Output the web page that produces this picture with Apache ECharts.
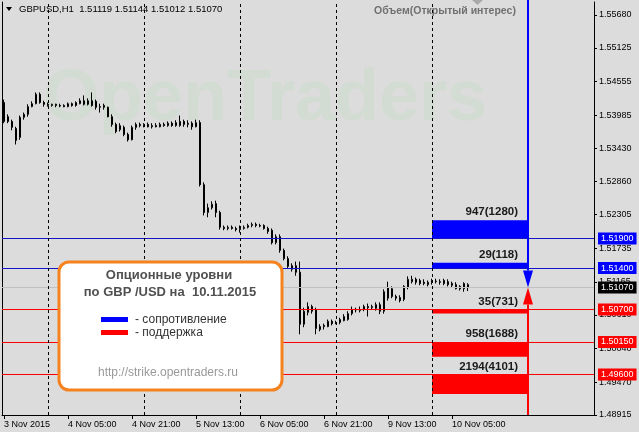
<!DOCTYPE html>
<html><head><meta charset="utf-8">
<script src="https://cdn.jsdelivr.net/npm/echarts@6/dist/echarts.min.js"></script>
<style>html,body{margin:0;padding:0;background:#dcdcdc}#c{width:639px;height:432px}</style>
</head><body><div id="c"></div>
<script>
const symbolName = 'GBPUSD,H1';
const panelTitle = 'Объем(Открытый интерес)';
const sessionDays = ['3 Nov','4 Nov','5 Nov','6 Nov','9 Nov','10 Nov','11 Nov'];
const sessionFirstHour = [13,0,0,0,0,0,0];
const sessionLastHour = [23,23,23,23,23,23,16];
const firstAxisLabel = '3 Nov 2015';
const daySeparators = ['4 Nov 00:00','5 Nov 00:00','6 Nov 00:00','9 Nov 00:00','10 Nov 00:00'];
const yTicks = [1.55680,1.55125,1.54555,1.53985,1.53430,1.52860,1.52305,1.51735,1.51165,1.50610,1.50040,1.49470,1.48915];
const yMin = 1.48915, yMax = 1.55900;
// [open, close, low, high]
const candles = [
[1.5420,1.5388,1.5385,1.5425],[1.5396,1.5388,1.5385,1.5400],[1.5388,1.5378,1.5373,1.5391],[1.5376,1.5356,1.5349,1.5379],
[1.5361,1.5395,1.5357,1.5398],[1.5395,1.5400,1.5391,1.5403],[1.5400,1.5413,1.5396,1.5417],[1.5413,1.5418,1.5412,1.5422],
[1.5418,1.5434,1.5417,1.5437],[1.5434,1.5420,1.5418,1.5437],[1.5420,1.5417,1.5413,1.5423],[1.5417,1.5415,1.5413,1.5420],
[1.5415,1.5417,1.5413,1.5418],[1.5417,1.5415,1.5412,1.5418],[1.5415,1.5414,1.5412,1.5418],[1.5415,1.5413,1.5412,1.5417],
[1.5413,1.5418,1.5412,1.5420],[1.5418,1.5415,1.5413,1.5420],[1.5415,1.5420,1.5413,1.5422],[1.5418,1.5423,1.5417,1.5427],
[1.5423,1.5417,1.5415,1.5432],[1.5417,1.5423,1.5415,1.5427],[1.5423,1.5415,1.5413,1.5437],[1.5422,1.5412,1.5408,1.5425],
[1.5413,1.5412,1.5403,1.5418],[1.5415,1.5412,1.5408,1.5418],[1.5412,1.5396,1.5395,1.5413],[1.5396,1.5383,1.5379,1.5400],
[1.5383,1.5371,1.5368,1.5386],[1.5374,1.5381,1.5371,1.5385],[1.5378,1.5366,1.5363,1.5381],[1.5366,1.5357,1.5354,1.5369],
[1.5357,1.5378,1.5356,1.5381],[1.5378,1.5383,1.5374,1.5386],[1.5383,1.5381,1.5378,1.5386],[1.5381,1.5383,1.5378,1.5385],
[1.5383,1.5379,1.5378,1.5386],[1.5379,1.5381,1.5376,1.5385],[1.5381,1.5379,1.5378,1.5385],[1.5379,1.5383,1.5378,1.5386],
[1.5383,1.5381,1.5379,1.5386],[1.5381,1.5385,1.5379,1.5388],[1.5385,1.5381,1.5379,1.5388],[1.5381,1.5386,1.5379,1.5390],
[1.5381,1.5388,1.5379,1.5398],[1.5388,1.5383,1.5379,1.5391],[1.5383,1.5385,1.5378,1.5390],[1.5385,1.5379,1.5374,1.5388],
[1.5379,1.5386,1.5378,1.5391],[1.5386,1.5281,1.5278,1.5390],[1.5281,1.5234,1.5229,1.5285],[1.5234,1.5242,1.5226,1.5249],
[1.5242,1.5248,1.5239,1.5253],[1.5249,1.5234,1.5226,1.5254],[1.5234,1.5209,1.5205,1.5237],[1.5209,1.5207,1.5204,1.5212],
[1.5207,1.5209,1.5204,1.5212],[1.5209,1.5207,1.5205,1.5212],[1.5207,1.5205,1.5202,1.5210],[1.5205,1.5207,1.5200,1.5212],
[1.5207,1.5209,1.5205,1.5212],[1.5209,1.5212,1.5207,1.5215],[1.5212,1.5214,1.5209,1.5217],[1.5214,1.5212,1.5209,1.5217],
[1.5212,1.5211,1.5209,1.5215],[1.5212,1.5207,1.5205,1.5214],[1.5207,1.5202,1.5198,1.5210],[1.5204,1.5183,1.5180,1.5207],
[1.5183,1.5193,1.5180,1.5197],[1.5193,1.5170,1.5166,1.5197],[1.5170,1.5156,1.5153,1.5173],[1.5156,1.5143,1.5139,1.5160],
[1.5144,1.5138,1.5134,1.5148],[1.5144,1.5133,1.5127,1.5151],[1.5133,1.5045,1.5028,1.5151],[1.5045,1.5067,1.5040,1.5073],
[1.5065,1.5075,1.5060,1.5082],[1.5075,1.5067,1.5063,1.5078],[1.5070,1.5038,1.5028,1.5073],[1.5041,1.5036,1.5033,1.5045],
[1.5043,1.5041,1.5036,1.5046],[1.5041,1.5050,1.5040,1.5053],[1.5050,1.5046,1.5043,1.5053],[1.5048,1.5047,1.5045,1.5051],
[1.5048,1.5053,1.5045,1.5056],[1.5051,1.5058,1.5050,1.5062],[1.5053,1.5063,1.5051,1.5067],[1.5063,1.5070,1.5060,1.5075],
[1.5070,1.5069,1.5065,1.5073],[1.5068,1.5070,1.5065,1.5075],[1.5070,1.5075,1.5067,1.5078],[1.5075,1.5073,1.5058,1.5080],
[1.5073,1.5075,1.5070,1.5078],[1.5078,1.5072,1.5068,1.5082],[1.5078,1.5067,1.5062,1.5082],[1.5067,1.5100,1.5063,1.5104],
[1.5089,1.5107,1.5085,1.5117],[1.5105,1.5092,1.5089,1.5109],[1.5092,1.5089,1.5085,1.5095],[1.5090,1.5085,1.5082,1.5094],
[1.5087,1.5109,1.5084,1.5111],[1.5107,1.5121,1.5104,1.5126],[1.5117,1.5121,1.5114,1.5127],[1.5121,1.5116,1.5112,1.5124],
[1.5119,1.5114,1.5111,1.5122],[1.5116,1.5114,1.5111,1.5121],[1.5112,1.5116,1.5109,1.5119],[1.5116,1.5119,1.5112,1.5122],
[1.5117,1.5118,1.5114,1.5122],[1.5117,1.5116,1.5112,1.5121],[1.5119,1.5114,1.5111,1.5122],[1.5117,1.5112,1.5109,1.5121],
[1.5114,1.5111,1.5107,1.5117],[1.5112,1.5105,1.5104,1.5116],[1.5109,1.5105,1.5102,1.5111],[1.5105,1.5114,1.5100,1.5116],
[1.51119,1.51070,1.51012,1.51144]
];
const currentPrice = 1.51070;
// option levels
const levelPrices = [1.5190, 1.5140, 1.5070, 1.5015, 1.4960];
const levelKinds = ['res','res','sup','sup','sup'];
const levelLabels = ['947(1280)','29(118)','35(731)','958(1688)','2194(4101)'];
const levelBandEdge = [1.5221, 1.5149, 1.5063, 1.4990, 1.4927];
const barStartCat = '10 Nov 00:00';
const arrowCat = '11 Nov 00:00';
const legendTitle1 = 'Опционные уровни';
const legendTitle2 = 'по GBP /USD на  10.11.2015';
const legendRes = '- сопротивление';
const legendSup = '- поддержка';
const legendUrl = 'http://strike.opentraders.ru';
const watermark = 'OpenTraders';

const categories = [];
sessionDays.forEach((d, k) => {
  for (let h = sessionFirstHour[k]; h <= sessionLastHour[k]; h++) {
    categories.push(d + ' ' + (h < 10 ? '0' + h : h) + ':00');
  }
});
const nData = candles.length;
const showTick = (i) => i % 16 === 0 && i < nData;
const FONT = 'Liberation Sans';
const kindColor = { res: '#0000ff', sup: '#ff0000' };
const kindLine = { res: '#1414c8', sup: '#ff0000' };
const last = candles[nData - 1];
const headerText = symbolName + '  ' + [last[0], last[3], last[2], last[1]].map(v => v.toFixed(5)).join(' ');

const startIdx = categories.indexOf(barStartCat);
const arrowIdx = categories.indexOf(arrowCat);
const barData = levelPrices.map((p, i) => [startIdx, arrowIdx, p, levelBandEdge[i]]);
const arrowData = [[arrowIdx, yMax, currentPrice], [arrowIdx, yMin, currentPrice]];
const arrowColors = ['#0000ff', '#ff0000'];

const markData = [];
levelPrices.forEach((p, i) => {
  markData.push({ yAxis: p, lineStyle: { color: kindLine[levelKinds[i]], width: 1, type: 'solid' },
    label: { show: true, backgroundColor: kindColor[levelKinds[i]] } });
});
markData.push({ yAxis: currentPrice, lineStyle: { color: '#c0c0c0', width: 1, type: 'solid' },
  label: { show: true, backgroundColor: '#000000' } });
daySeparators.forEach(c => {
  markData.push({ xAxis: c, lineStyle: { color: '#000', width: 1, type: [3, 3] }, label: { show: false } });
});

const chart = echarts.init(document.getElementById('c'), null, { renderer: 'canvas' });
chart.setOption({
  backgroundColor: '#dcdcdc',
  animation: false,
  grid: { left: 2, right: 45, top: 2, bottom: 17, show: false },
  xAxis: {
    type: 'category', data: categories, boundaryGap: true,
    axisLine: { show: true, lineStyle: { color: '#000', width: 1 } },
    axisTick: { show: true, alignWithLabel: true, interval: (i) => showTick(i), length: 4, lineStyle: { color: '#000' } },
    axisLabel: { interval: (i) => showTick(i), align: 'left', margin: 5, fontFamily: FONT, fontSize: 9, color: '#000',
      formatter: (v, i) => i === 0 ? firstAxisLabel : v },
    splitLine: { show: false }
  },
  yAxis: [{
    type: 'value', position: 'right', min: yMin, max: yMax, scale: true,
    axisLine: { show: true, lineStyle: { color: '#000', width: 1 } },
    axisTick: { show: true, length: 3, customValues: yTicks, lineStyle: { color: '#000' } },
    axisLabel: { customValues: yTicks, margin: 5, fontFamily: FONT, fontSize: 9, color: '#000', formatter: v => v.toFixed(5) },
    splitLine: { show: false }
  }, {
    type: 'value', position: 'left', min: yMin, max: yMax,
    axisLine: { show: true, onZero: false, lineStyle: { color: '#000', width: 1 } },
    axisTick: { show: false }, axisLabel: { show: false }, splitLine: { show: false }
  }],
  series: [{
    type: 'candlestick', data: candles, barWidth: 2, z: 3,
    itemStyle: { color: '#ffffff', color0: '#000000', borderColor: '#000000', borderColor0: '#000000', borderWidth: 1 },
    markLine: {
      silent: true, symbol: ['none', 'none'], animation: false, precision: 5,
      label: { position: 'end', distance: 4, color: '#fff', fontFamily: FONT, fontSize: 9, padding: [2, 3, 1, 3],
        formatter: p => (typeof p.value === 'number' ? p.value.toFixed(5) : '') },
      data: markData
    }
  }, {
    type: 'custom', z: 4, clip: false,
    encode: { x: [0, 1], y: [2, 3] },
    data: barData,
    renderItem: (params, api) => {
      const i = params.dataIndex;
      const a = api.coord([api.value(0), api.value(2)]);
      const b = api.coord([api.value(1), api.value(3)]);
      const top = Math.min(a[1], b[1]);
      const h = Math.abs(b[1] - a[1]);
      return { type: 'group', children: [
        { type: 'rect', shape: { x: a[0], y: top, width: b[0] - a[0], height: h }, style: { fill: kindColor[levelKinds[i]] } },
        { type: 'text', style: { text: levelLabels[i], x: b[0] - 10, y: top - 2, align: 'right', verticalAlign: 'bottom',
          fill: '#1a1a1a', font: 'bold 11.5px "Liberation Sans"' } }
      ] };
    }
  }, {
    type: 'custom', z: 5, clip: false,
    encode: { x: 0, y: [1, 2] },
    data: arrowData,
    renderItem: (params, api) => {
      const col = arrowColors[params.dataIndex];
      const p0 = api.coord([api.value(0), api.value(1)]);
      const p1 = api.coord([api.value(0), api.value(2)]);
      const dir = p1[1] > p0[1] ? 1 : -1;
      const base = p1[1] - dir * 17;
      const x = p0[0];
      return { type: 'group', children: [
        { type: 'line', shape: { x1: x, y1: p0[1] - (dir > 0 ? 2 : 0), x2: x, y2: base }, style: { stroke: col, lineWidth: 2 } },
        { type: 'polygon', shape: { points: [[x - 5, base], [x + 5, base], [x, p1[1]]] }, style: { fill: col } }
      ] };
    }
  }],
  graphic: [
    { type: 'text', z: 0, silent: true, style: { text: watermark, x: 265, y: 100, align: 'center', verticalAlign: 'middle',
      font: 'bold 72px "Liberation Sans"', fill: '#d2dcd2' } },
    { type: 'polygon', shape: { points: [[6, 7], [12, 7], [9, 11]] }, style: { fill: '#000' } },
    { type: 'text', style: { text: headerText, x: 19, y: 9, verticalAlign: 'middle', font: '9.5px "Liberation Sans"', fill: '#000' } },
    { type: 'text', style: { text: panelTitle, x: 445, y: 11, align: 'center', verticalAlign: 'middle', font: 'bold 10.5px "Liberation Sans"', fill: '#707070' } },
    { type: 'polygon', shape: { points: [[472, 0], [483, 0], [477.5, 5]] }, style: { fill: '#a9a9a9' } },
    { type: 'rect', z: 10, shape: { x: 59, y: 262, width: 223, height: 128, r: 10 }, style: { fill: '#ffffff', stroke: '#f5821f', lineWidth: 3 } },
    { type: 'text', z: 11, style: { text: legendTitle1, x: 169, y: 275, align: 'center', verticalAlign: 'middle', font: 'bold 13px "Liberation Sans"', fill: '#505050' } },
    { type: 'text', z: 11, style: { text: legendTitle2, x: 170, y: 292, align: 'center', verticalAlign: 'middle', font: 'bold 13px "Liberation Sans"', fill: '#505050' } },
    { type: 'rect', z: 11, shape: { x: 101, y: 317, width: 27, height: 5 }, style: { fill: '#0000ff' } },
    { type: 'text', z: 11, style: { text: legendRes, x: 135, y: 319.5, verticalAlign: 'middle', font: '12px "Liberation Sans"', fill: '#333' } },
    { type: 'rect', z: 11, shape: { x: 101, y: 330, width: 27, height: 5 }, style: { fill: '#ff0000' } },
    { type: 'text', z: 11, style: { text: legendSup, x: 135, y: 332.5, verticalAlign: 'middle', font: '12px "Liberation Sans"', fill: '#333' } },
    { type: 'text', z: 11, style: { text: legendUrl, x: 168, y: 373, align: 'center', verticalAlign: 'middle', font: '12px "Liberation Sans"', fill: '#999' } }
  ]
});
</script></body></html>
